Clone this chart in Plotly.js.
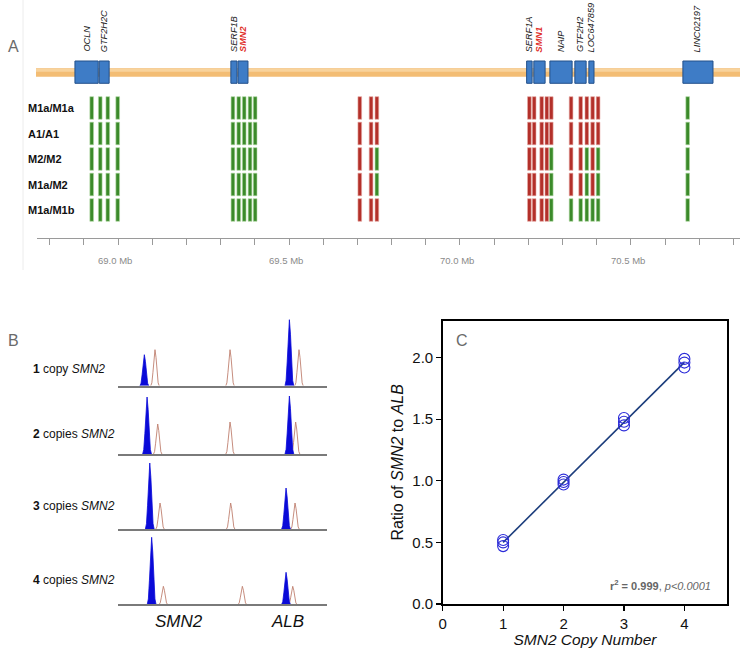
<!DOCTYPE html>
<html>
<head>
<meta charset="utf-8">
<script src="https://cdn.plot.ly/plotly-3.0.1.min.js"></script>
<style>
body { margin: 0; background: #fff; }
#chart { width: 740px; height: 649px; }
</style>
</head>
<body>
<div id="chart"></div>
<script>
// ---- Panel A: SMN locus, genotype calls per marker (positions in Mb) ----
const genotypes = ['M1a/M1a', 'A1/A1', 'M2/M2', 'M1a/M2', 'M1a/M1b'];
const markerMb = [68.923, 68.948, 68.970, 68.999,
    69.336, 69.353, 69.369, 69.386, 69.401,
    69.707, 69.740, 69.757,
    70.203, 70.217, 70.239, 70.254, 70.267,
    70.325, 70.353, 70.371, 70.388, 70.404,
    70.666];
// G = green, R = red, one letter per marker
const markerCalls = [
    'GGGGGGGGG' + 'RRR' + 'RRRRR' + 'RRRRR' + 'G',
    'GGGGGGGGG' + 'RRR' + 'RRRRR' + 'RRRRR' + 'G',
    'GGGGGGGGG' + 'RRG' + 'RRRRG' + 'RRGRG' + 'G',
    'GGGGGGGGG' + 'RRG' + 'RRRRG' + 'RRGRG' + 'G',
    'GGGGGGGGG' + 'RRR' + 'RRRRG' + 'GGGGG' + 'G'
];

const geneNames = ['OCLN', 'GTF2H2C', 'SERF1B', 'SMN2', 'SERF1A', 'SMN1', 'NAIP', 'GTF2H2', 'LOC647859', 'LINC02197'];
const geneStart = [68.874, 68.945, 69.330, 69.351, 70.195, 70.216, 70.263, 70.336, 70.377, 70.652];
const geneEnd   = [68.942, 68.974, 69.348, 69.380, 70.211, 70.249, 70.328, 70.369, 70.392, 70.740];
const highlightGenes = ['SMN1', 'SMN2'];

const mbTickVals = [68.8, 68.9, 69.0, 69.1, 69.2, 69.3, 69.4, 69.5, 69.6, 69.7, 69.8,
    69.9, 70.0, 70.1, 70.2, 70.3, 70.4, 70.5, 70.6, 70.7, 70.8];
const mbLabelVals = [69.0, 69.5, 70.0, 70.5];
const mbLabelText = ['69.0 Mb', '69.5 Mb', '70.0 Mb', '70.5 Mb'];

// ---- Panel B: capillary traces (peak position, peak height) ----
const copyLabels = ['1', '2', '3', '4'];
const copyWords = ['copy', 'copies', 'copies', 'copies'];
const bluePeakPos = [[12.6, 82.0], [13.9, 82.0], [15.2, 80.4], [16.1, 80.4]];
const bluePeakHeight = [[31, 66], [57, 58], [66, 41], [67, 32]];
const refPeakPos = [[17.7, 53.6, 86.6], [19.0, 53.6, 85.0], [20.1, 53.9, 84.7], [21.7, 59.5, 83.6]];
const refPeakHeight = [[36, 36, 36], [30, 32, 32], [26, 26, 26], [18, 18, 18]];

// ---- Panel C: SMN2/ALB ratio vs copy number ----
const copyNumber = [1, 1, 1, 2, 2, 2, 3, 3, 3, 4, 4, 4];
const ratio = [0.52, 0.50, 0.47, 1.01, 0.99, 0.97, 1.51, 1.48, 1.45, 1.99, 1.96, 1.92];

const FONT = 'Liberation Sans, Arial, Helvetica, sans-serif';
const W = 740, H = 649;
const px = x => x / W;          // pixel -> paper x
const py = y => 1 - y / H;      // pixel -> paper y

const traces = [];

// genotype blocks
const cellH = 0.886;
['G', 'R'].forEach(call => {
    const xs = [], bases = [], ys = [];
    markerCalls.forEach((row, i) => {
        row.split('').forEach((c, j) => {
            if (c === call) {
                xs.push(markerMb[j]);
                bases.push(i - cellH / 2);
                ys.push(cellH);
            }
        });
    });
    traces.push({
        type: 'bar', x: xs, y: ys, base: bases, width: 0.0108,
        xaxis: 'x', yaxis: 'y', hoverinfo: 'skip',
        marker: {
            color: call === 'G' ? '#3b8a2a' : '#b3302a',
            line: { color: call === 'G' ? '#b6dba8' : '#e8aaa4', width: 0.6 }
        }
    });
});

// gene boxes
traces.push({
    type: 'bar',
    x: geneStart.map((s, i) => (s + geneEnd[i]) / 2),
    width: geneStart.map((s, i) => geneEnd[i] - s),
    y: geneNames.map(() => 0.874),
    base: geneNames.map(() => -1.843),
    xaxis: 'x', yaxis: 'y', hoverinfo: 'skip',
    marker: { color: '#3e7cc6', line: { color: '#23508a', width: 1 } }
});

// peak profile (relative shape of one peak)
const profDx = [-1, -0.75, -0.5, -0.25, 0, 0.25, 0.5, 0.75, 1];
const profDy = [0, 0.08, 0.36, 0.78, 1, 0.78, 0.36, 0.08, 0];
function peakPath(pos, heights, half) {
    const xs = [], ys = [];
    pos.forEach((p, k) => {
        profDx.forEach((d, m) => { xs.push(p + d * half); ys.push(profDy[m] * heights[k]); });
        xs.push(null); ys.push(null);
    });
    return { xs, ys };
}

copyLabels.forEach((lab, r) => {
    const ax = 3 + r;
    const ref = peakPath(refPeakPos[r], refPeakHeight[r], 2.0);
    traces.push({
        type: 'scatter', mode: 'lines', x: ref.xs, y: ref.ys,
        xaxis: 'x' + ax, yaxis: 'y' + ax, hoverinfo: 'skip',
        line: { color: '#c0806f', width: 0.9 }
    });
    const blue = peakPath(bluePeakPos[r], bluePeakHeight[r], 2.1);
    traces.push({
        type: 'scatter', mode: 'lines', x: blue.xs, y: blue.ys,
        xaxis: 'x' + ax, yaxis: 'y' + ax, hoverinfo: 'skip',
        fill: 'toself', fillcolor: '#0a0ad8',
        line: { color: '#0a0ad8', width: 0.8 }
    });
});

// regression for panel C
const n = copyNumber.length;
const mx = copyNumber.reduce((a, b) => a + b, 0) / n;
const my = ratio.reduce((a, b) => a + b, 0) / n;
let sxy = 0, sxx = 0;
copyNumber.forEach((x, i) => { sxy += (x - mx) * (ratio[i] - my); sxx += (x - mx) * (x - mx); });
const slope = sxy / sxx;
const intercept = my - slope * mx;
const fitX = [Math.min(...copyNumber), Math.max(...copyNumber)];

traces.push({
    type: 'scatter', mode: 'lines', x: fitX, y: fitX.map(x => intercept + slope * x),
    xaxis: 'x7', yaxis: 'y7', hoverinfo: 'skip',
    line: { color: '#1c3d7c', width: 1.6 }
});
traces.push({
    type: 'scatter', mode: 'markers', x: copyNumber, y: ratio,
    xaxis: 'x7', yaxis: 'y7',
    marker: { symbol: 'circle-open', size: 11, color: '#2b2bd8', line: { width: 1.1 } }
});

// ---- annotations ----
const annotations = [];
annotations.push({ text: 'A', xref: 'paper', yref: 'paper', x: px(6), y: py(36), showarrow: false,
    font: { size: 16, color: '#6a6a6a', family: FONT } });
annotations.push({ text: 'B', xref: 'paper', yref: 'paper', x: px(6), y: py(340), showarrow: false,
    font: { size: 16, color: '#6a6a6a', family: FONT } });
annotations.push({ text: 'C', xref: 'paper', yref: 'paper', x: px(462), y: py(340), showarrow: false,
    font: { size: 16, color: '#6a6a6a', family: FONT } });

genotypes.forEach((g, i) => {
    annotations.push({ text: '<b>' + g + '</b>', xref: 'paper', yref: 'y', x: px(26), y: i,
        xanchor: 'left', yanchor: 'middle', showarrow: false,
        font: { size: 11, color: '#111', family: FONT } });
});

geneNames.forEach((g, i) => {
    const hi = highlightGenes.includes(g);
    annotations.push({
        text: hi ? '<b><i>' + g + '</i></b>' : '<i>' + g + '</i>',
        xref: 'x', yref: 'y', x: (geneStart[i] + geneEnd[i]) / 2, y: -2.118,
        textangle: -90, xanchor: 'center', yanchor: 'bottom', showarrow: false,
        font: { size: 9.2, color: hi ? '#e0302a' : '#222', family: FONT }
    });
});

// genomic position labels under the ruler
mbLabelVals.forEach((v, i) => {
    annotations.push({
        text: mbLabelText[i], xref: 'x', yref: 'paper', x: v - 0.01, y: py(260),
        xanchor: 'center', yanchor: 'middle', showarrow: false,
        font: { size: 9.5, color: '#8a8a8a', family: FONT }
    });
});

const rowLabelY = [369, 434, 506, 580];
copyLabels.forEach((lab, r) => {
    annotations.push({
        text: '<b>' + lab + '</b> ' + copyWords[r] + ' <i>SMN2</i>',
        xref: 'paper', yref: 'paper', x: px(31), y: py(rowLabelY[r]),
        xanchor: 'left', yanchor: 'middle', showarrow: false,
        font: { size: 12, color: '#111', family: FONT }
    });
});
annotations.push({ text: '<i>SMN2</i>', xref: 'paper', yref: 'paper', x: px(153), y: py(633),
    showarrow: false, font: { size: 17, color: '#111', family: FONT } });
annotations.push({ text: '<i>ALB</i>', xref: 'paper', yref: 'paper', x: px(287), y: py(633),
    showarrow: false, font: { size: 17, color: '#111', family: FONT } });

annotations.push({
    text: '<b>r<sup>2</sup> = 0.999</b>, <i>p&lt;0.0001</i>',
    xref: 'paper', yref: 'paper', x: px(713), y: py(585), xanchor: 'right', yanchor: 'middle',
    showarrow: false, font: { size: 11, color: '#666', family: FONT }
});

// ---- layout ----
const rowBaseline = [385.7, 454, 529, 604.3];
const layout = {
    width: W, height: H,
    margin: { l: 0, r: 0, t: 0, b: 0 },
    paper_bgcolor: '#fff', plot_bgcolor: 'rgba(0,0,0,0)',
    font: { family: FONT },
    showlegend: false,
    barmode: 'overlay',
    xaxis: {
        domain: [px(37), 1], range: [68.763, 70.819], anchor: 'y',
        showgrid: false, zeroline: false, showline: true, linecolor: '#9a9a9a', linewidth: 1.2,
        tickmode: 'array', tickvals: mbTickVals, showticklabels: false,
        ticks: 'outside', ticklen: 6, tickcolor: '#9a9a9a', tickwidth: 1
    },
    xaxis2: {
        domain: [px(37), 1], range: [68.763, 70.819], anchor: 'y', overlaying: 'x',
        showgrid: false, zeroline: false, showline: false,
        tickmode: 'array', tickvals: mbTickVals, showticklabels: false,
        ticks: 'inside', ticklen: 6, tickcolor: '#9a9a9a', tickwidth: 1
    },
    yaxis: { domain: [py(238), 1], range: [5.098, -4.235], visible: false, anchor: 'x' },
    xaxis7: {
        domain: [px(442.7), px(727.3)], range: [0, 4.71], anchor: 'y7',
        tickmode: 'array', tickvals: [0, 1, 2, 3, 4],
        ticks: 'outside', ticklen: 5, tickwidth: 1.2, tickcolor: '#000',
        showline: true, mirror: true, linecolor: '#000', linewidth: 1.5,
        showgrid: false, zeroline: false,
        tickfont: { size: 15, color: '#111', family: FONT },
        title: { text: '<i>SMN2 Copy Number</i>', standoff: 3, font: { size: 15.5, color: '#111', family: FONT } }
    },
    yaxis7: {
        domain: [py(604), py(320.7)], range: [0, 2.3], anchor: 'x7',
        tickmode: 'array', tickvals: [0, 0.5, 1, 1.5, 2], tickformat: '.1f',
        ticks: 'outside', ticklen: 5, tickwidth: 1.2, tickcolor: '#000',
        showline: true, mirror: true, linecolor: '#000', linewidth: 1.5,
        showgrid: false, zeroline: false,
        tickfont: { size: 15, color: '#111', family: FONT },
        title: { text: 'Ratio of <i>SMN2</i> to <i>ALB</i>', standoff: 4, font: { size: 16, color: '#111', family: FONT } }
    },
    annotations: annotations,
    shapes: [
        // panel A left border
        { type: 'line', xref: 'paper', yref: 'paper', x0: px(23), x1: px(23), y0: 1, y1: py(270),
          line: { color: '#ececec', width: 1 }, layer: 'below' },
        // chromosome bar with a lighter top highlight
        { type: 'rect', xref: 'paper', yref: 'y', x0: px(36), x1: 1, y0: -1.557, y1: -1.227,
          fillcolor: '#f3bd74', line: { width: 0 }, layer: 'below' },
        { type: 'rect', xref: 'paper', yref: 'y', x0: px(36), x1: 1, y0: -1.54, y1: -1.42,
          fillcolor: '#f8d39c', line: { width: 0 }, layer: 'below' }
    ]
};

rowBaseline.forEach((b, r) => {
    const ax = 3 + r;
    layout['xaxis' + ax] = {
        domain: [px(118), px(327)], range: [0, 100], anchor: 'y' + ax,
        showline: true, linecolor: '#7a7a7a', linewidth: 2,
        ticks: '', showticklabels: false, showgrid: false, zeroline: false
    };
    layout['yaxis' + ax] = {
        domain: [py(b), py(b - 75)], range: [0, 75], anchor: 'x' + ax, visible: false
    };
});

Plotly.newPlot('chart', traces, layout, { displayModeBar: false, staticPlot: true });
</script>
</body>
</html>
